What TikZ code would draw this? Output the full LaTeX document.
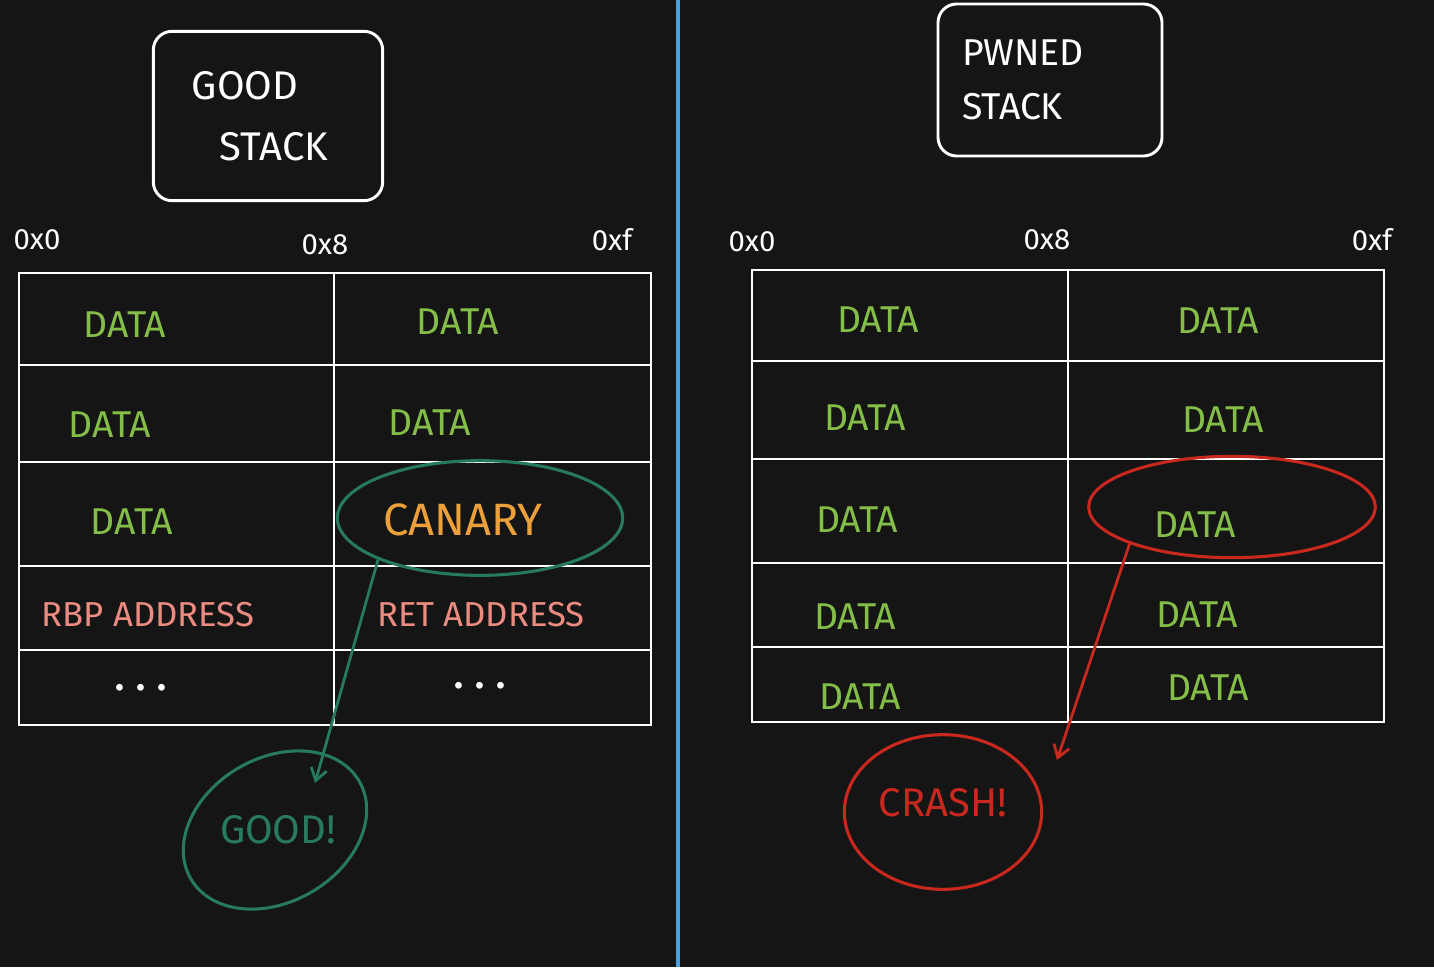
\documentclass[tikz,border=0pt]{standalone}
\usepackage{fontspec}
\setmainfont{Fira Sans}
\usetikzlibrary{shapes.geometric,arrows.meta,positioning}
\definecolor{boardbg}{RGB}{21,21,21}
\definecolor{dividerblue}{RGB}{72,162,226}
\definecolor{datagreen}{RGB}{132,190,72}
\definecolor{canaryorange}{RGB}{236,160,58}
\definecolor{addrpink}{RGB}{236,140,128}
\definecolor{guardteal}{RGB}{40,122,92}
\definecolor{crashred}{RGB}{200,40,30}

\begin{document}
\begin{tikzpicture}[x=0.75pt,y=-0.75pt,
    cellline/.style={white, line width=2.2pt},
    titlebox/.style={draw=white, line width=2.2pt, rounded corners=14pt, align=left, text=white, font=\fontsize{30}{46}\selectfont},
    hexlabel/.style={white, font=\fontsize{22}{24}\selectfont},
    datatext/.style={datagreen, font=\fontsize{28}{30}\selectfont},
    addrtext/.style={addrpink, font=\fontsize{26}{28}\selectfont},
    dotstext/.style={white, font=\fontsize{28}{30}\selectfont\bfseries},
    ring/.style={ellipse, draw=#1, line width=2.3pt, inner sep=0pt},
    pointer/.style={line width=2.1pt, -{Straight Barb[length=9pt,width=12pt]}}
]

% Board
\fill[boardbg] (0,0) rectangle (1434,967);
\useasboundingbox (0,0) rectangle (1434,967);
\draw[dividerblue, line width=2.4pt] (678,0) -- (678,967);

% Titles
\node[titlebox, minimum width=172pt, minimum height=127pt] (goodtitle) at (268,116) {\hspace*{-0.4em}GOOD\\\hspace*{0.3em}STACK};
\node[titlebox, text width=132pt, inner xsep=18pt, minimum height=114pt, font=\fontsize{28}{41}\selectfont] (pwnedtitle) at (1050,80) {PWNED\\STACK};

% Offsets
\foreach \n/\px/\py/\t in {a/37/240/0x0, b/325/245/0x8, c/612/240/0xf, d/752/242/0x0, e/1047/240/0x8, f/1372/240/0xf}
    \node[hexlabel] (hex\n) at (\px,\py) {\t};

% Good stack
\draw[cellline] (19,273) rectangle (651,725);
\draw[cellline] (334,273) -- (334,725);
\foreach \ry in {365,462,566,650}
    \draw[cellline] (19,\ry) -- (651,\ry);

\foreach \n/\px/\py in {a/125/325, b/458/322, c/110/425, d/430/423, e/132/522}
    \node[datatext] (gd\n) at (\px,\py) {DATA};
\node[canaryorange, font=\fontsize{34}{36}\selectfont] (canary) at (463,520) {CANARY};
\node[addrtext] (rbp) at (148,615) {RBP ADDRESS};
\node[addrtext] (ret) at (481,615) {RET ADDRESS};
\node[dotstext] (gdots1) at (141,688) {. . .};
\node[dotstext] (gdots2) at (480,686) {. . .};

\node[ring=guardteal, minimum width=214pt, minimum height=86pt] (canaryring) at (480,518) {};
\node[guardteal, font=\fontsize{30}{32}\selectfont] (goodword) at (278,830) {GOOD!};
\node[ring=guardteal, minimum width=146pt, minimum height=108pt, rotate=30] (goodring) at (275,830) {};
\coordinate (goodhit) at (315,783);
\draw[pointer, guardteal] (canaryring.south west) -- (goodhit);

% Pwned stack
\draw[cellline] (752,270) rectangle (1384,722);
\draw[cellline] (1068,270) -- (1068,722);
\foreach \ry in {361,459,563,647}
    \draw[cellline] (752,\ry) -- (1384,\ry);

\foreach \n/\px/\py in {a/878/320, b/1218/321, c/865/418, d/1223/420, e/857/520, f/1195/525, g/855/617, h/1197/615, i/860/697, j/1208/688}
    \node[datatext] (pd\n) at (\px,\py) {DATA};

\node[ring=crashred, minimum width=215pt, minimum height=76pt] (smashring) at (1232,507) {};
\node[crashred, font=\fontsize{30}{32}\selectfont] (crashword) at (943,803) {CRASH!};
\node[ring=crashred, minimum width=148pt, minimum height=116pt] (crashring) at (943,812) {};
\coordinate (crashhit) at (1057,760);
\draw[pointer, crashred] (smashring.south west) -- (crashhit);

\end{tikzpicture}
\end{document}
